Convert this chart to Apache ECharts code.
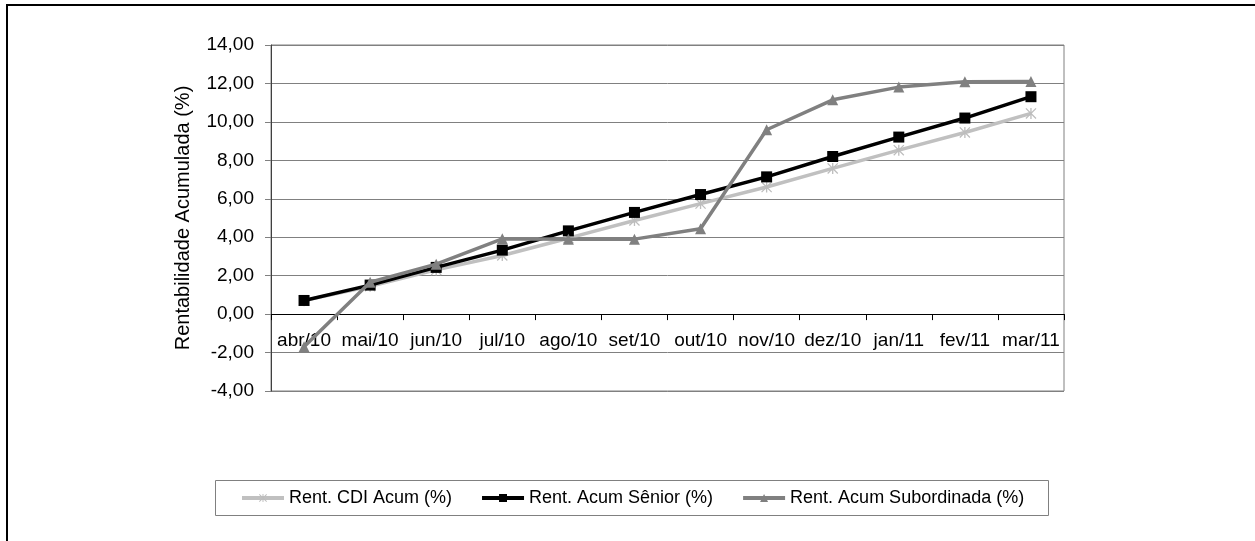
<!DOCTYPE html>
<html>
<head>
<meta charset="utf-8">
<script src="https://cdn.jsdelivr.net/npm/echarts@6/dist/echarts.min.js"></script>
<style>
  html, body { margin: 0; padding: 0; background: #fff; }
  #chart { width: 1255px; height: 541px; }
</style>
</head>
<body>
<div id="chart"></div>
<script>
// Monthly accumulated returns, Apr/2010 – Mar/2011
const months = ['abr/10', 'mai/10', 'jun/10', 'jul/10', 'ago/10', 'set/10',
                'out/10', 'nov/10', 'dez/10', 'jan/11', 'fev/11', 'mar/11'];
const cdiAcum = [0.70, 1.45, 2.30, 3.05, 3.95, 4.87, 5.75, 6.61, 7.58, 8.53, 9.45, 10.44];
const seniorAcum = [0.71, 1.51, 2.43, 3.33, 4.33, 5.29, 6.22, 7.14, 8.20, 9.21, 10.20, 11.31];
const subordAcum = [-1.70, 1.66, 2.60, 3.92, 3.90, 3.90, 4.44, 9.59, 11.15, 11.81, 12.09, 12.10];
const seriesNames = ['Rent. CDI Acum (%)', 'Rent. Acum Sênior (%)', 'Rent. Acum Subordinada (%)'];
const yTicks = { min: -4, max: 14, step: 2 };

const FONT = "'Liberation Sans', Arial, sans-serif";

// plot box in pixels
const GRID = { left: 271, top: 45, width: 793, height: 346 };
// the category axis sits on the zero line of the value axis
const zeroY = GRID.top + GRID.height * (yTicks.max - 0) / (yTicks.max - yTicks.min);
const xAxisOffset = zeroY - (GRID.top + GRID.height);

// asterisk marker: vertical bar plus two diagonals
const asterisk = 'path://M4.4,0 L5.6,0 L5.6,10 L4.4,10 Z ' +
                 'M0,0.8 L0.8,0 L10,9.2 L9.2,10 Z ' +
                 'M9.2,0 L10,0.8 L0.8,10 L0,9.2 Z';

const chart = echarts.init(document.getElementById('chart'), null, { renderer: 'canvas' });

chart.setOption({
  animation: false,
  backgroundColor: '#ffffff',
  textStyle: { fontFamily: FONT },
  grid: {
    left: GRID.left, top: GRID.top, width: GRID.width, height: GRID.height,
    show: true, borderColor: '#808080', borderWidth: 1, backgroundColor: '#ffffff'
  },
  legend: {
    left: 240, top: 489,
    itemWidth: 42, itemHeight: 10, itemGap: 28,
    padding: 0,
    lineStyle: { width: 4 },
    textStyle: { fontFamily: FONT, fontSize: 18, color: '#000' },
    data: seriesNames
  },
  xAxis: {
    type: 'category',
    data: months,
    boundaryGap: true,
    offset: xAxisOffset,
    axisLine: { onZero: false, lineStyle: { color: '#000', width: 1 } },
    axisTick: { show: true, length: 6, lineStyle: { color: '#000' } },
    axisLabel: { interval: 0, margin: 17, fontFamily: FONT, fontSize: 19, color: '#000' },
    splitLine: { show: false }
  },
  yAxis: {
    type: 'value',
    min: yTicks.min, max: yTicks.max, interval: yTicks.step,
    name: 'Rentabilidade Acumulada (%)',
    nameLocation: 'middle',
    nameRotate: 90,
    nameGap: 78,
    nameTextStyle: { fontFamily: FONT, fontSize: 20, color: '#000' },
    axisLine: { show: true, lineStyle: { color: '#404040', width: 1 } },
    axisTick: { show: true, length: 6, lineStyle: { color: '#808080' } },
    axisLabel: {
      margin: 17, fontFamily: FONT, fontSize: 19, color: '#000',
      formatter: v => v.toFixed(2).replace('.', ',')
    },
    splitLine: { show: true, lineStyle: { color: '#808080', width: 1 } }
  },
  graphic: [
    // outer frame (top and left edges)
    { type: 'line', shape: { x1: 6, y1: 5, x2: 1255, y2: 5 }, style: { stroke: '#000', lineWidth: 2 }, silent: true },
    { type: 'line', shape: { x1: 7, y1: 5, x2: 7, y2: 541 }, style: { stroke: '#000', lineWidth: 2 }, silent: true },
    // legend frame
    { type: 'rect', shape: { x: 215.5, y: 480.5, width: 833, height: 35 },
      style: { fill: 'none', stroke: '#808080', lineWidth: 1 }, silent: true, z: -1 }
  ],
  series: [
    {
      name: seriesNames[0], type: 'line', data: cdiAcum,
      symbol: asterisk, symbolSize: 11, showAllSymbol: true,
      lineStyle: { color: '#c0c0c0', width: 3.5 },
      itemStyle: { color: '#bdbdbd' },
      z: 2
    },
    {
      name: seriesNames[1], type: 'line', data: seniorAcum,
      symbol: 'rect', symbolSize: 11, showAllSymbol: true,
      lineStyle: { color: '#000000', width: 3.5 },
      itemStyle: { color: '#000000' },
      z: 3
    },
    {
      name: seriesNames[2], type: 'line', data: subordAcum,
      symbol: 'triangle', symbolSize: 11, showAllSymbol: true,
      lineStyle: { color: '#808080', width: 3.5 },
      itemStyle: { color: '#808080' },
      z: 4
    }
  ]
});
</script>
</body>
</html>
